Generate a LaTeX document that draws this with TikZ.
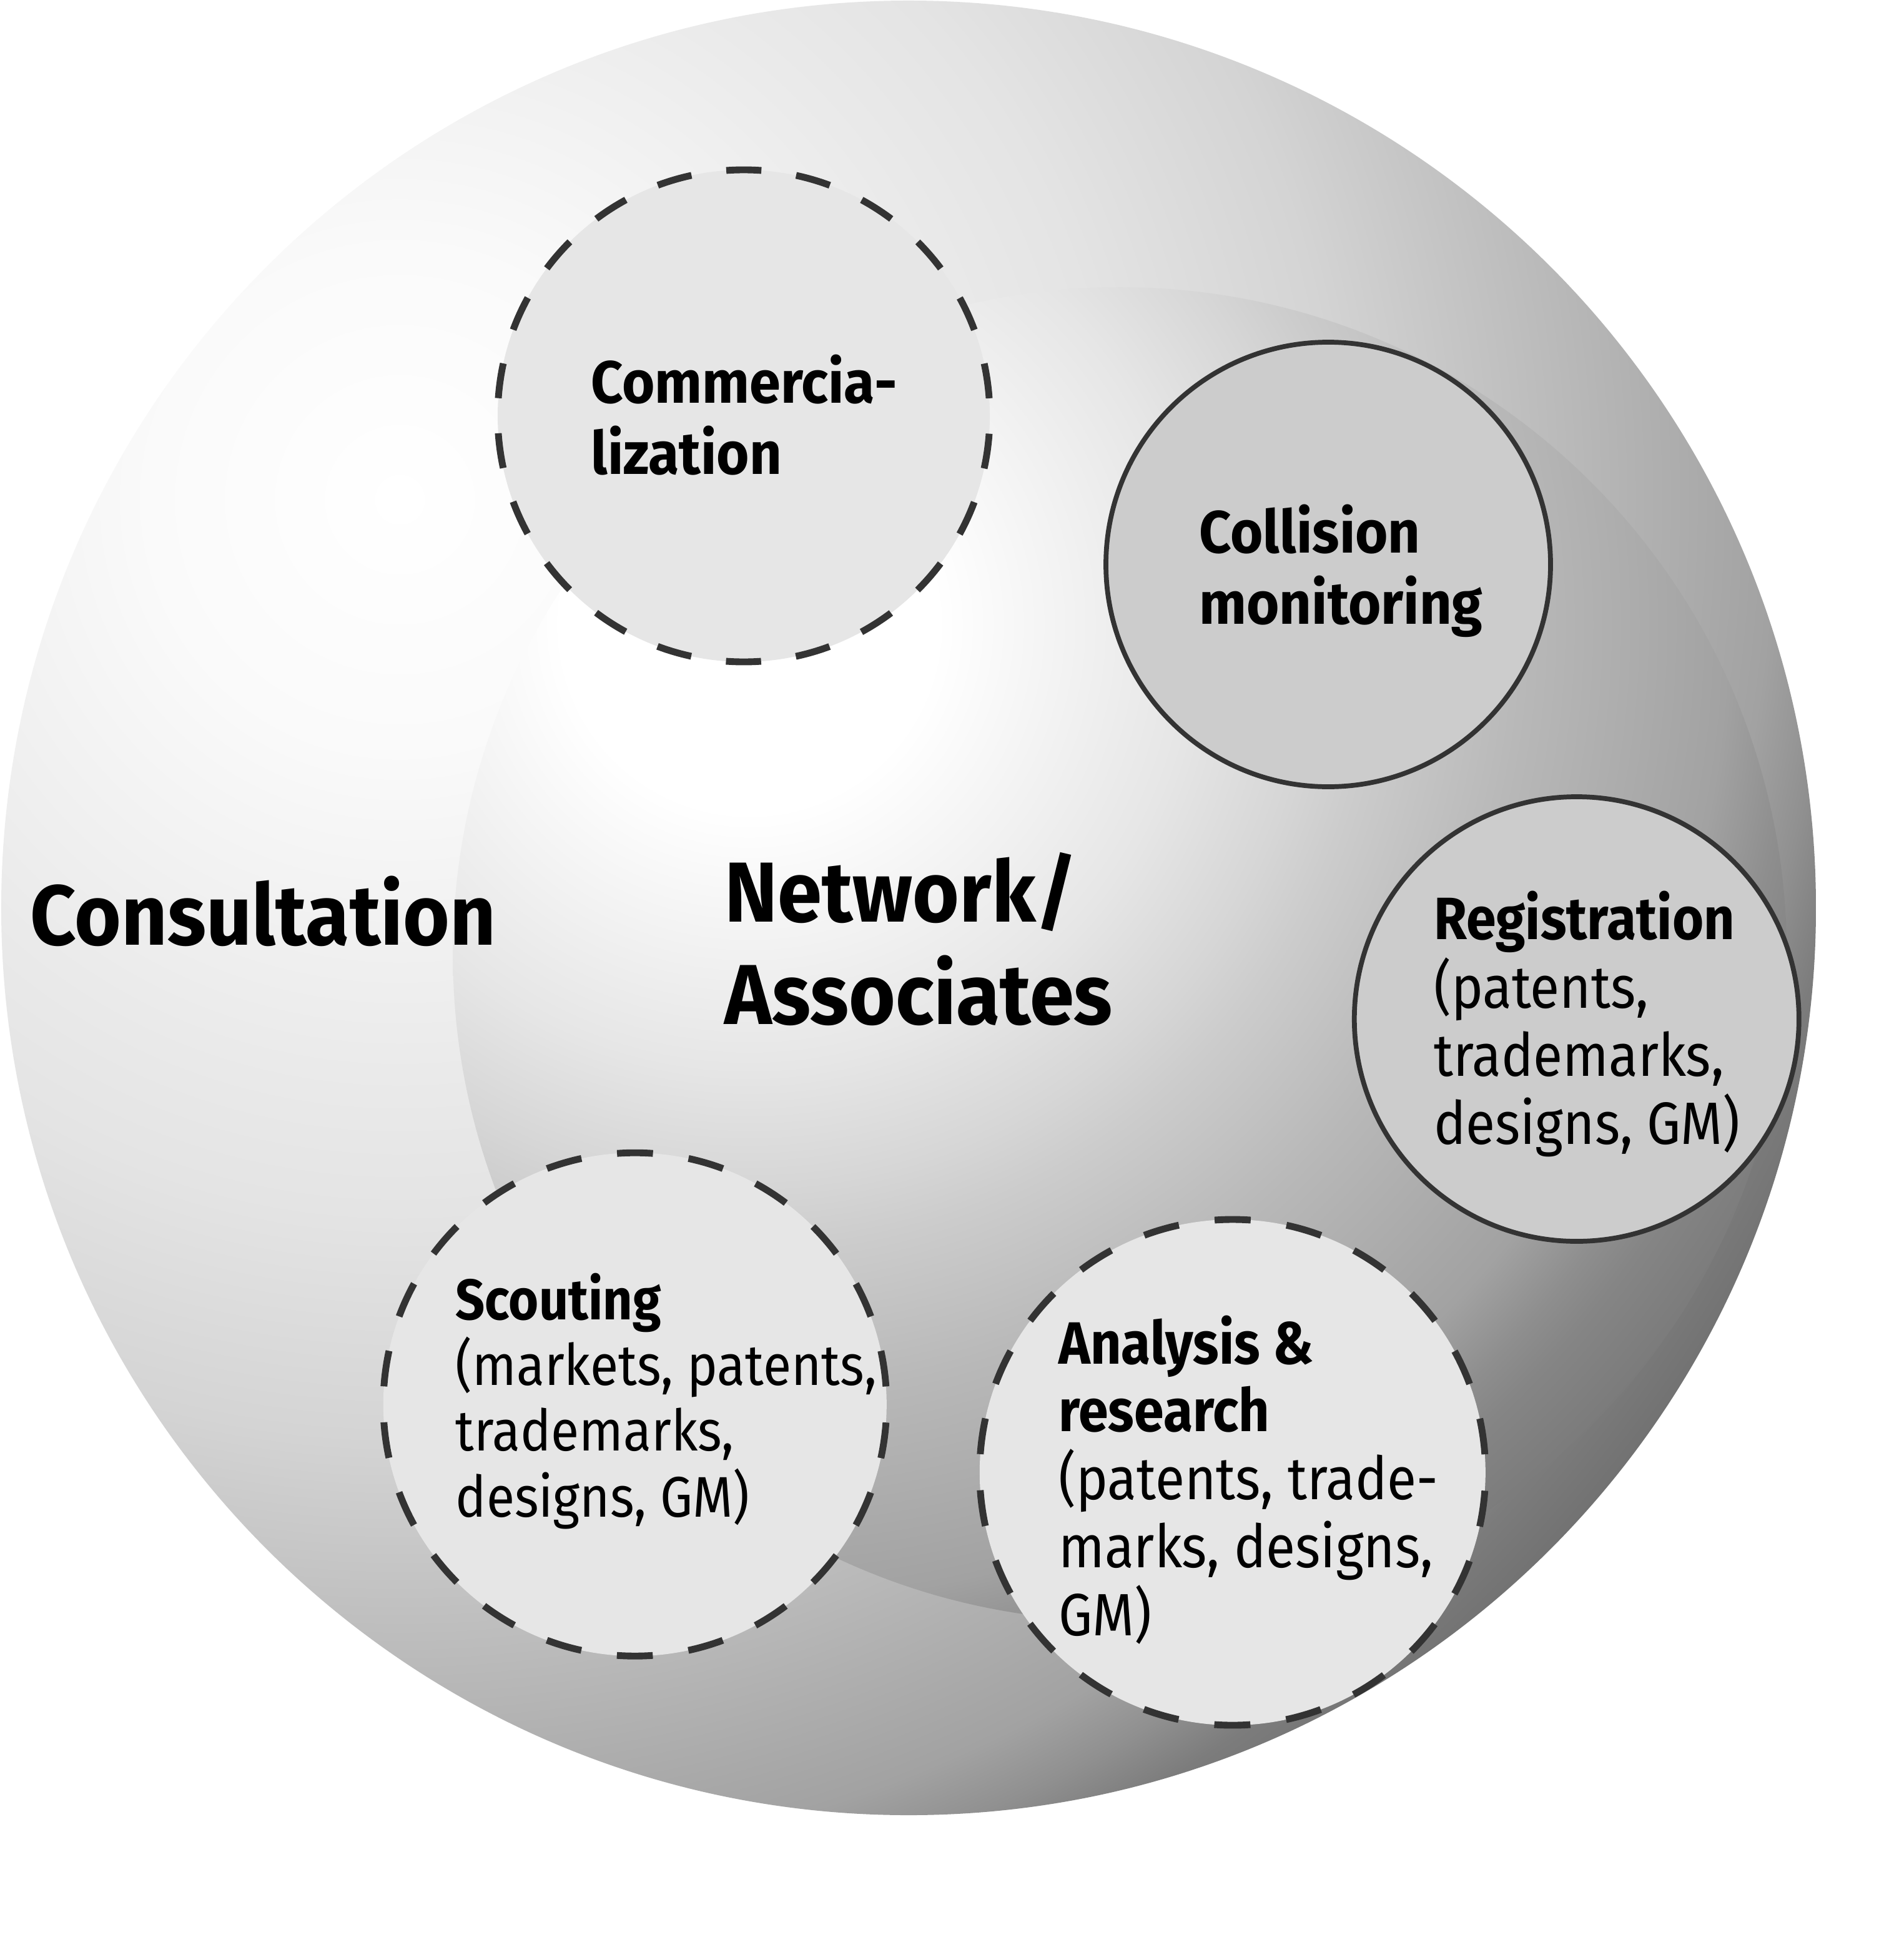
\documentclass[tikz,border=0pt]{standalone}
\usepackage{fontspec}
\setmainfont{Fira Sans}
\newfontfamily\regf{Fira Sans}[FakeStretch=0.9]
\newfontfamily\bigf{Fira Sans}[FakeStretch=0.94]
\definecolor{dk}{HTML}{333333}
\definecolor{lt}{HTML}{E6E6E6}
\definecolor{md}{HTML}{CCCCCC}
\definecolor{oA}{HTML}{FFFFFF}
\definecolor{oB}{HTML}{FAFAFA}
\definecolor{oC}{HTML}{EAEAEA}
\definecolor{oD}{HTML}{E4E4E4}
\definecolor{oE}{HTML}{D4D4D4}
\definecolor{oF}{HTML}{C0C0C0}
\definecolor{oG}{HTML}{B0B0B0}
\definecolor{oH}{HTML}{A2A2A2}
\definecolor{oI}{HTML}{909090}
\definecolor{oJ}{HTML}{7C7C7C}
\definecolor{oK}{HTML}{6E6E6E}
\definecolor{oL}{HTML}{626262}
\definecolor{iA}{HTML}{FFFFFF}
\definecolor{iB}{HTML}{E6E6E6}
\definecolor{iC}{HTML}{D6D6D6}
\definecolor{iD}{HTML}{CCCCCC}
\definecolor{iE}{HTML}{B8B8B8}
\definecolor{iF}{HTML}{A2A2A2}
\definecolor{iG}{HTML}{8E8E8E}
\definecolor{iH}{HTML}{858585}
\definecolor{iI}{HTML}{787878}
\definecolor{iJ}{HTML}{6E6E6E}
\pgfdeclareradialshading{outerball}{\pgfpointorigin}{%
  color(0pt)=(oA); color(113.8pt)=(oB); color(261.7pt)=(oC); color(324.3pt)=(oD);
  color(426.8pt)=(oE); color(506.4pt)=(oF); color(569pt)=(oG); color(625.9pt)=(oH);
  color(654.4pt)=(oI); color(680pt)=(oJ); color(722.6pt)=(oK); color(796.6pt)=(oL)}
\pgfdeclareradialshading{innerball}{\pgfpointorigin}{%
  color(0pt)=(iA); color(85.4pt)=(iA); color(202pt)=(iB); color(256pt)=(iC);
  color(284.5pt)=(iD); color(352.8pt)=(iE); color(445.5pt)=(iF); color(476.8pt)=(iG);
  color(495.6pt)=(iH); color(540.6pt)=(iI); color(625.9pt)=(iJ)}
\newcommand\tstack[2]{\vtop{\baselineskip=#1\relax\lineskiplimit=-100pt\halign{##\hfil\cr#2\crcr}}}
\begin{document}
\begin{tikzpicture}[x=0.2mm,y=-0.2mm,
  dcircle/.style n args={3}{circle, draw=dk, fill=lt, line width=3.1pt, inner sep=0pt,
     minimum size=#1, dash pattern=on #2 off #2, dash phase=#3},
  scircle/.style={circle, draw=dk, fill=md, line width=2.2pt, inner sep=0pt, minimum size=#1},
  bigtxt/.style={font=\bigf\fontsize{38.8pt}{46.7pt}\selectfont\bfseries, anchor=base west, inner sep=0pt},
  boldtxt/.style={font=\bigf\fontsize{27.2pt}{32pt}\selectfont\bfseries, anchor=base west, inner sep=0pt},
  smalltxt/.style={font=\regf\fontsize{27.2pt}{32pt}\selectfont, anchor=base west, inner sep=0pt}]
\fill[white] (0,0) rectangle (1504,1569.5);
\useasboundingbox (0,0) rectangle (1504,1569.5);
% spheres
\coordinate (outerc) at (727.5,727);
\coordinate (innerc) at (896.6,764);
\begin{scope}
  \clip (outerc) circle[radius=145.3mm];
  \node[inner sep=0pt] (outerhl) at (320,400) {\pgfuseshading{outerball}};
\end{scope}
\begin{scope}
  \clip (innerc) circle[radius=106.8mm];
  \node[inner sep=0pt] (innerhl) at (600,500) {\pgfuseshading{innerball}};
\end{scope}
% small circles
\node[dcircle={78.8mm}{5.626mm}{8.439mm}] (comm) at (595.5,333) {};
\node[scircle=71.2mm] (coll) at (1063.5,452) {};
\node[scircle=71.2mm] (regi) at (1262.4,816) {};
\node[dcircle={80.6mm}{5.755mm}{8.632mm}] (scou) at (508.4,1124.6) {};
\node[dcircle={81.0mm}{5.783mm}{8.675mm}] (anal) at (986.9,1179) {};
% texts
\node[bigtxt] (tcons) at (24,756.7) {Consultation};
\node[bigtxt] (tnet) at (580,738) {\tstack{46.7pt}{Network/\cr Associates}};
\node[boldtxt] (tcomm) at (472.8,322.5) {\tstack{32.7pt}{Commercia-\cr lization}};
\node[boldtxt] (tcoll) at (959.9,442.8) {\tstack{32.4pt}{Collision\cr monitoring}};
\node[smalltxt] (tregi) at (1147.7,752.4) {\tstack{31.1pt}{\bfseries Registration\cr (patents,\cr trademarks,\cr designs, GM)}};
\node[smalltxt, font=\regf\fontsize{26.1pt}{30pt}\selectfont] (tscou) at (364.5,1056.5) {\tstack{30pt}{\bfseries Scouting\cr (markets, patents,\cr trademarks,\cr designs, GM)}};
\node[smalltxt] (tanal) at (847.3,1092) {\tstack{31pt}{\bfseries Analysis \&\cr \bfseries research\cr (patents, trade-\cr marks, designs,\cr GM)}};
\end{tikzpicture}
\end{document}
